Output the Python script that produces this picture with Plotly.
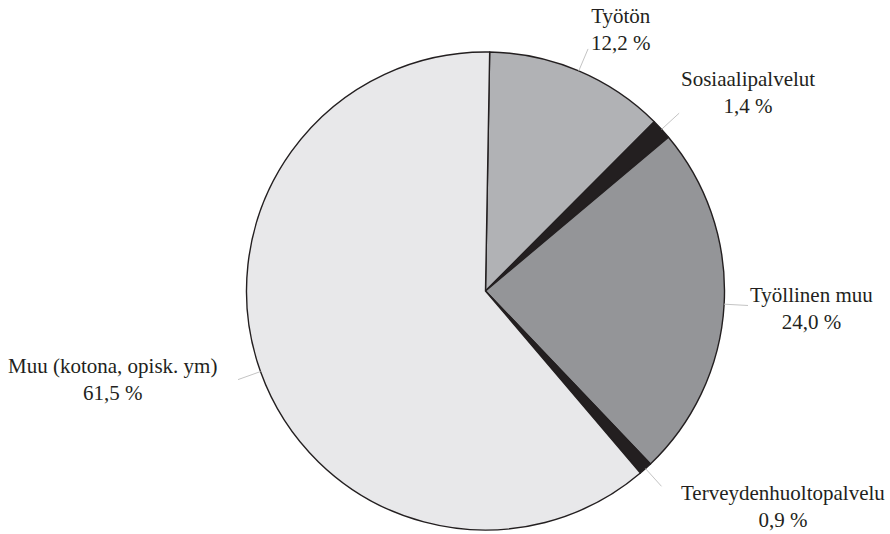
import math
import plotly.graph_objects as go

# Distribution shares (%) in clockwise order from 12 o'clock
labels = ["Työtön", "Sosiaalipalvelut", "Työllinen muu", "Terveydenhuoltopalvelu", "Muu (kotona, opisk. ym)"]
values = [12.2, 1.4, 24.0, 0.9, 61.5]
value_text = ["12,2 %", "1,4 %", "24,0 %", "0,9 %", "61,5 %"]
colors = ["#b1b2b5", "#231f20", "#949598", "#231f20", "#e8e8ea"]

W, H = 890, 534
CX, CY, R = 485.5, 291.0, 239.0   # pie centre and radius in px
ROTATION = 1.0

# Label anchor positions (px from top-left)
label_pos = [(621, 29), (748, 93), (811, 308), (783, 506), (112, 379)]

fig = go.Figure(go.Pie(
    labels=labels,
    values=values,
    sort=False,
    direction="clockwise",
    rotation=ROTATION,
    marker=dict(colors=colors, line=dict(color="#231f20", width=1.4)),
    textinfo="none",
    hoverinfo="label+percent",
    showlegend=False,
    domain=dict(x=[(CX - R) / W, (CX + R) / W],
                y=[(H - CY - R) / H, (H - CY + R) / H]),
))

def px_to_paper(x, y):
    return x / W, (H - y) / H

shapes = []
annotations = []
total = sum(values)
cum = 0.0
for lab, v, vt, (lx, ly) in zip(labels, values, value_text, label_pos):
    mid = ROTATION + (cum + v / 2) / total * 360.0
    cum += v
    a = math.radians(mid)
    x0, y0 = px_to_paper(CX + R * math.sin(a), CY - R * math.cos(a))
    x1, y1 = px_to_paper(CX + 1.1 * R * math.sin(a), CY - 1.1 * R * math.cos(a))
    shapes.append(dict(type="line", xref="paper", yref="paper",
                       x0=x0, y0=y0, x1=x1, y1=y1,
                       line=dict(color="#c4c4c4", width=1)))
    ax, ay = px_to_paper(lx, ly)
    annotations.append(dict(xref="paper", yref="paper", x=ax, y=ay,
                            text=f"{lab}<br>{vt}", showarrow=False,
                            align="center", xanchor="center", yanchor="middle",
                            font=dict(family="Liberation Serif", size=21, color="#231f20")))

fig.update_layout(
    width=W, height=H,
    margin=dict(l=0, r=0, t=0, b=0),
    paper_bgcolor="white",
    plot_bgcolor="white",
    shapes=shapes,
    annotations=annotations,
)

fig.write_html("out.html")
